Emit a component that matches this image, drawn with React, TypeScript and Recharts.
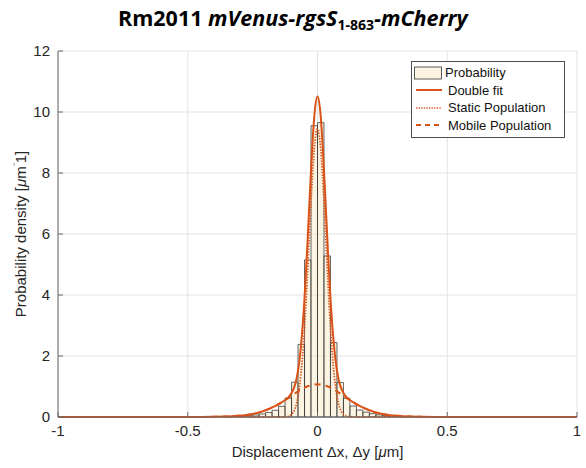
import React from 'react';
import { ComposedChart, Line, XAxis, YAxis, CartesianGrid, ReferenceArea } from 'recharts';

const xTicks = [-1, -0.5, 0, 0.5, 1];
const yTicks = [0, 2, 4, 6, 8, 10, 12];

const binStart = [-0.35, -0.325, -0.3, -0.275, -0.25, -0.225, -0.2, -0.175, -0.15, -0.125, -0.1, -0.075, -0.05, -0.025, 0, 0.025, 0.05, 0.075, 0.1, 0.125, 0.15, 0.175, 0.2, 0.225, 0.25, 0.275, 0.3, 0.325];
const binEnd = [-0.325, -0.3, -0.275, -0.25, -0.225, -0.2, -0.175, -0.15, -0.125, -0.1, -0.075, -0.05, -0.025, 0, 0.025, 0.05, 0.075, 0.1, 0.125, 0.15, 0.175, 0.2, 0.225, 0.25, 0.275, 0.3, 0.325, 0.35];
const probability = [0.01, 0.015, 0.025, 0.04, 0.066, 0.1, 0.15, 0.22, 0.35, 0.62, 1.14, 2.38, 5.15, 9.55, 9.65, 5.28, 2.44, 1.13, 0.61, 0.36, 0.23, 0.16, 0.11, 0.07, 0.045, 0.03, 0.018, 0.01];

const curveX = [-1, -0.5, -0.45, -0.4, -0.36, -0.33, -0.3, -0.28, -0.25, -0.22, -0.2, -0.18, -0.16, -0.14, -0.12, -0.11, -0.1, -0.09, -0.08, -0.07, -0.06, -0.05, -0.04, -0.03, -0.02, -0.01, 0, 0.01, 0.02, 0.03, 0.04, 0.05, 0.06, 0.07, 0.08, 0.09, 0.1, 0.11, 0.12, 0.14, 0.16, 0.18, 0.2, 0.22, 0.25, 0.28, 0.3, 0.33, 0.36, 0.4, 0.45, 0.5, 1];
const doubleFit = [0, 0, 0.001, 0.005, 0.013, 0.025, 0.045, 0.06, 0.1, 0.16, 0.22, 0.29, 0.37, 0.47, 0.59, 0.67, 0.79, 0.97, 1.28, 1.83, 2.68, 3.9, 5.47, 7.23, 8.89, 10.08, 10.52, 10.08, 8.89, 7.23, 5.47, 3.9, 2.68, 1.83, 1.28, 0.97, 0.79, 0.67, 0.59, 0.47, 0.37, 0.29, 0.22, 0.16, 0.1, 0.06, 0.045, 0.025, 0.013, 0.005, 0.001, 0, 0];
const staticPop = [0, 0, 0, 0, 0, 0, 0, 0, 0, 0, 0, 0, 0, 0, 0.01, 0.03, 0.09, 0.21, 0.47, 0.96, 1.76, 2.94, 4.47, 6.2, 7.84, 9.02, 9.45, 9.02, 7.84, 6.2, 4.47, 2.94, 1.76, 0.96, 0.47, 0.21, 0.09, 0.03, 0.01, 0, 0, 0, 0, 0, 0, 0, 0, 0, 0, 0, 0, 0, 0];
const mobilePop = [0, 0, 0.001, 0.005, 0.013, 0.025, 0.045, 0.06, 0.1, 0.16, 0.22, 0.29, 0.37, 0.47, 0.58, 0.64, 0.7, 0.76, 0.81, 0.87, 0.92, 0.965, 1.0, 1.03, 1.05, 1.065, 1.07, 1.065, 1.05, 1.03, 1.0, 0.965, 0.92, 0.87, 0.81, 0.76, 0.7, 0.64, 0.58, 0.47, 0.37, 0.29, 0.22, 0.16, 0.1, 0.06, 0.045, 0.025, 0.013, 0.005, 0.001, 0, 0];

const legendLabels = ['Probability', 'Double fit', 'Static Population', 'Mobile Population'];

const ORANGE = '#D95319';
const FONT = '"Liberation Sans", Arial, Helvetica, sans-serif';

const curveData = curveX.map((x, i) => ({ x, fit: doubleFit[i], stat: staticPop[i], mob: mobilePop[i] }));

const LegendBox = () => (
  <div style={{ position: 'absolute', left: 411, top: 61, border: '1px solid #4d4d4d', background: '#fff', width: 152, padding: '2px 0 3px 0', fontFamily: FONT, fontSize: 13, color: '#111', lineHeight: 1 }}>
    {legendLabels.map((label, i) => (
      <div key={label} style={{ display: 'flex', alignItems: 'center', height: 17.5 }}>
        <svg width={32} height={14} style={{ marginLeft: 2 }}>
          {i === 0 && <rect x={0.5} y={1} width={27} height={12} fill="#FCF3E0" stroke="#333" strokeWidth={0.8} />}
          {i === 1 && <line x1={2} y1={7} x2={28} y2={7} stroke={ORANGE} strokeWidth={2} />}
          {i === 2 && <line x1={2} y1={7} x2={28} y2={7} stroke={ORANGE} strokeWidth={1.6} strokeDasharray="1.3 1.3" />}
          {i === 3 && <line x1={2} y1={7} x2={28} y2={7} stroke={ORANGE} strokeWidth={1.8} strokeDasharray="5 4" />}
        </svg>
        <span style={{ marginLeft: i === 0 ? -1 : 2 }}>{label}</span>
      </div>
    ))}
  </div>
);

const YLabel = (props: any) => {
  const vb = props.viewBox || {};
  const cx = (vb.x ?? 0) + 26;
  const cy = (vb.y ?? 0) + (vb.height ?? 0) / 2;
  return (
    <text x={cx} y={cy} transform={`rotate(-90 ${cx} ${cy})`} textAnchor="middle" fontFamily={FONT} fontSize={15} fill="#262626">
      Probability density [<tspan fontStyle="italic">μ</tspan>m<tspan fontSize={10} dy={-6}>⁻</tspan><tspan dy={6}>1]</tspan>
    </text>
  );
};

const XLabel = (props: any) => {
  const vb = props.viewBox || {};
  const cx = (vb.x ?? 0) + (vb.width ?? 0) / 2;
  const cy = (vb.y ?? 0) + 40;
  return (
    <text x={cx} y={cy} textAnchor="middle" fontFamily={FONT} fontSize={15} fill="#262626">
      Displacement Δx, Δy [<tspan fontStyle="italic">μ</tspan>m]
    </text>
  );
};

export default function App() {
  return (
    <div style={{ position: 'absolute', left: 0, top: 0, width: 586, height: 468, background: '#fff' }}>
      <div style={{ position: 'absolute', left: 118, top: 3, fontFamily: '"Open Sans", Lato, sans-serif', fontWeight: 700, fontSize: 21.5, color: '#000', whiteSpace: 'nowrap' }}>
        Rm2011 <i>mVenus-rgsS</i><span style={{ fontSize: 14, verticalAlign: -4 }}>1-863</span><i>-mCherry</i>
      </div>
      <ComposedChart width={586} height={468} data={curveData} margin={{ top: 51, right: 9, bottom: 0, left: 0 }}>
        <CartesianGrid stroke="#E3E3E3" strokeWidth={1} />
        <XAxis dataKey="x" type="number" domain={[-1, 1]} ticks={xTicks} tickSize={-5} tickMargin={13} height={51}
          stroke="#6b6b6b" tick={{ fill: '#262626', fontSize: 15, fontFamily: FONT }} tickFormatter={(v: number) => String(v)}
          label={<XLabel />} />
        <XAxis xAxisId="top" dataKey="x" type="number" orientation="top" domain={[-1, 1]} ticks={xTicks} tickSize={-5} height={0}
          stroke="#6b6b6b" tick={false} />
        <YAxis type="number" domain={[0, 12]} ticks={yTicks} tickSize={-5} tickMargin={13} width={58}
          stroke="#6b6b6b" tick={{ fill: '#262626', fontSize: 15, fontFamily: FONT }} label={<YLabel />} />
        <YAxis yAxisId="right" type="number" orientation="right" domain={[0, 12]} ticks={yTicks} tickSize={-5} width={0}
          stroke="#6b6b6b" tick={false} />
        {binStart.map((s, i) => (
          <ReferenceArea key={i} x1={s} x2={binEnd[i]} y1={0} y2={probability[i]} fill="#F6E7BF" fillOpacity={0.45}
            stroke="#2b2b2b" strokeWidth={0.8} strokeOpacity={0.9} ifOverflow="visible" />
        ))}
        <Line dataKey="stat" type="monotone" stroke={ORANGE} strokeWidth={1.8} strokeDasharray="1.4 1.4" dot={false} isAnimationActive={false} />
        <Line dataKey="mob" type="monotone" stroke={ORANGE} strokeWidth={2} strokeDasharray="6 5" dot={false} isAnimationActive={false} />
        <Line dataKey="fit" type="monotone" stroke={ORANGE} strokeWidth={2} dot={false} isAnimationActive={false} />
      </ComposedChart>
      <LegendBox />
    </div>
  );
}
